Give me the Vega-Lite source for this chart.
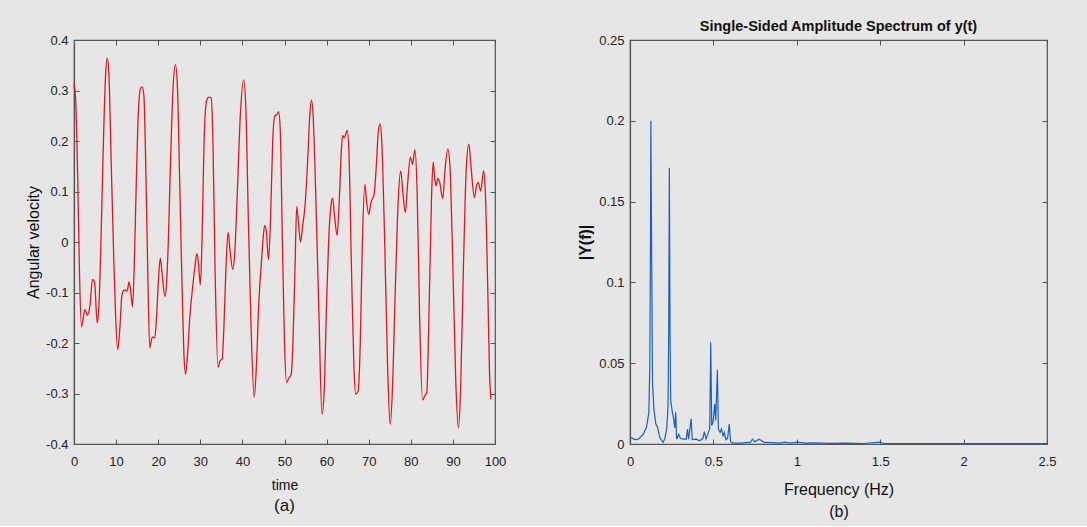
{
  "$schema": "https://vega.github.io/schema/vega-lite/v6.json",
  "background": "#e6e6e6",
  "padding": {"left": 24, "top": 17, "right": 34, "bottom": 6},
  "bounds": "flush",
  "spacing": 135,
  "config": {
    "font": "Liberation Sans",
    "view": {"stroke": "#555555", "strokeWidth": 1.2},
    "axis": {
      "grid": false, "domainColor": "#555555", "domainWidth": 1.2, "tickColor": "#555555", "tickSize": -5,
      "labelFontSize": 13, "labelColor": "#222222", "labelFont": "Liberation Sans", "labelPadding": 11,
      "labelFlush": false, "labelOverlap": false,
      "titleFont": "Liberation Sans", "titleColor": "#111111", "titleFontWeight": "normal"
    },
    "axisX": {"labelPadding": 16},
    "title": {"font": "Liberation Sans", "color": "#111111"},
    "locale": {"number": {"decimal": ".", "thousands": ",", "grouping": [3], "currency": ["$", ""], "minus": "-"}}
  },
  "datasets": {
    "vel": [
      {"t":0,"v":0.314},{"t":0.4,"v":0.28},{"t":0.9,"v":0.12},{"t":1.3,"v":-0.06},{"t":1.8,"v":-0.168},{"t":2.2,"v":-0.15},{"t":2.6,"v":-0.134},{"t":3.2,"v":-0.145},{"t":3.8,"v":-0.125},{"t":4.4,"v":-0.074},{"t":4.9,"v":-0.08},{"t":5.5,"v":-0.16},{"t":5.9,"v":-0.13},{"t":6.4,"v":0.0},{"t":6.9,"v":0.17},{"t":7.5,"v":0.33},{"t":7.9,"v":0.364},{"t":8.3,"v":0.33},{"t":8.8,"v":0.17},{"t":9.4,"v":-0.02},{"t":9.9,"v":-0.15},
      {"t":10.4,"v":-0.213},{"t":10.9,"v":-0.17},{"t":11.4,"v":-0.104},{"t":12.0,"v":-0.095},{"t":12.6,"v":-0.097},{"t":13.1,"v":-0.079},{"t":13.5,"v":-0.1},{"t":13.9,"v":-0.128},{"t":14.3,"v":-0.05},{"t":14.8,"v":0.12},{"t":15.3,"v":0.26},{"t":15.8,"v":0.304},{"t":16.2,"v":0.307},{"t":16.6,"v":0.29},{"t":17.0,"v":0.17},{"t":17.5,"v":-0.05},{"t":18.0,"v":-0.21},{"t":18.6,"v":-0.188},{"t":19.2,"v":-0.19},{"t":19.6,"v":-0.15},
      {"t":20.1,"v":-0.07},{"t":20.5,"v":-0.032},{"t":20.9,"v":-0.06},{"t":21.6,"v":-0.108},{"t":22.0,"v":-0.08},{"t":22.4,"v":0.0},{"t":22.9,"v":0.15},{"t":23.5,"v":0.3},{"t":24.1,"v":0.351},{"t":24.6,"v":0.3},{"t":25.1,"v":0.12},{"t":25.7,"v":-0.1},{"t":26.1,"v":-0.22},{"t":26.5,"v":-0.262},{"t":27.0,"v":-0.22},{"t":27.5,"v":-0.15},{"t":28.2,"v":-0.088},{"t":28.7,"v":-0.05},{"t":29.2,"v":-0.023},{"t":29.6,"v":-0.045},
      {"t":30.0,"v":-0.085},{"t":30.4,"v":0.0},{"t":30.9,"v":0.2},{"t":31.5,"v":0.28},{"t":32.0,"v":0.287},{"t":32.6,"v":0.285},{"t":33.0,"v":0.2},{"t":33.5,"v":-0.05},{"t":34.2,"v":-0.248},{"t":34.7,"v":-0.235},{"t":35.2,"v":-0.232},{"t":35.6,"v":-0.17},{"t":36.1,"v":-0.05},{"t":36.6,"v":0.019},{"t":37.1,"v":-0.02},{"t":37.7,"v":-0.054},{"t":38.2,"v":-0.02},{"t":38.8,"v":0.1},{"t":39.5,"v":0.25},
      {"t":40.3,"v":0.321},{"t":40.8,"v":0.27},{"t":41.4,"v":0.05},{"t":42.0,"v":-0.15},{"t":42.8,"v":-0.307},{"t":43.3,"v":-0.25},{"t":43.9,"v":-0.12},{"t":44.5,"v":-0.042},{"t":44.9,"v":0.005},{"t":45.3,"v":0.033},{"t":45.7,"v":0.02},{"t":46.2,"v":-0.035},{"t":46.7,"v":0.05},{"t":47.2,"v":0.2},{"t":47.7,"v":0.25},{"t":48.2,"v":0.252},{"t":48.6,"v":0.258},{"t":49.0,"v":0.22},{"t":49.5,"v":0.0},
      {"t":50.0,"v":-0.2},{"t":50.5,"v":-0.278},{"t":51.0,"v":-0.27},{"t":51.6,"v":-0.262},{"t":52.0,"v":-0.2},{"t":52.5,"v":-0.05},{"t":52.9,"v":0.07},{"t":53.3,"v":0.04},{"t":53.8,"v":0.0},{"t":54.3,"v":0.03},{"t":54.9,"v":0.075},{"t":55.5,"v":0.16},{"t":56.0,"v":0.25},{"t":56.4,"v":0.281},{"t":56.8,"v":0.25},{"t":57.4,"v":0.1},{"t":58.2,"v":-0.15},{"t":58.9,"v":-0.341},{"t":59.4,"v":-0.3},
      {"t":60.0,"v":-0.12},{"t":60.5,"v":0.005},{"t":61.0,"v":0.07},{"t":61.4,"v":0.087},{"t":61.9,"v":0.05},{"t":62.5,"v":0.013},{"t":63.0,"v":0.08},{"t":63.5,"v":0.18},{"t":63.8,"v":0.211},{"t":64.2,"v":0.206},{"t":64.6,"v":0.215},{"t":64.9,"v":0.221},{"t":65.3,"v":0.18},{"t":65.9,"v":-0.05},{"t":66.5,"v":-0.25},{"t":66.9,"v":-0.301},{"t":67.5,"v":-0.295},{"t":68.0,"v":-0.2},{"t":68.5,"v":0.0},{"t":69.1,"v":0.114},{"t":69.5,"v":0.08},
      {"t":70.0,"v":0.055},{"t":70.6,"v":0.08},{"t":71.3,"v":0.095},{"t":71.8,"v":0.15},{"t":72.3,"v":0.22},{"t":72.7,"v":0.234},{"t":73.1,"v":0.2},{"t":73.8,"v":0.0},{"t":74.5,"v":-0.25},{"t":75.1,"v":-0.361},{"t":75.6,"v":-0.3},{"t":76.3,"v":-0.1},{"t":77.0,"v":0.08},{"t":77.6,"v":0.141},{"t":78.1,"v":0.1},{"t":78.7,"v":0.058},{"t":79.2,"v":0.11},{"t":79.9,"v":0.168},
      {"t":80.4,"v":0.154},{"t":81.0,"v":0.183},{"t":81.5,"v":0.1},{"t":82.1,"v":-0.15},{"t":82.8,"v":-0.313},{"t":83.3,"v":-0.305},{"t":83.8,"v":-0.298},{"t":84.3,"v":-0.15},{"t":84.9,"v":0.08},{"t":85.3,"v":0.158},{"t":85.7,"v":0.125},{"t":86.0,"v":0.111},{"t":86.4,"v":0.126},{"t":86.8,"v":0.12},{"t":87.6,"v":0.086},{"t":88.1,"v":0.14},{"t":88.8,"v":0.184},{"t":89.3,"v":0.15},
      {"t":90.0,"v":-0.05},{"t":90.7,"v":-0.28},{"t":91.3,"v":-0.368},{"t":91.8,"v":-0.3},{"t":92.5,"v":-0.05},{"t":93.2,"v":0.15},{"t":93.8,"v":0.194},{"t":94.3,"v":0.15},{"t":95.1,"v":0.088},{"t":95.6,"v":0.11},{"t":96.0,"v":0.118},{"t":96.6,"v":0.101},{"t":97.3,"v":0.141},{"t":97.7,"v":0.1},{"t":98.3,"v":-0.1},{"t":98.7,"v":-0.26},{"t":99.0,"v":-0.311}
    ],
    "spec": [
      {"f":0,"a":0.0041},{"f":0.015,"a":0.0035},{"f":0.03,"a":0.0027},{"f":0.05,"a":0.003},{"f":0.065,"a":0.0045},{"f":0.079,"a":0.006},{"f":0.099,"a":0.0103},{"f":0.113,"a":0.0196},{"f":0.119,"a":0.0485},{"f":0.123,"a":0.131},{"f":0.125,"a":0.2},{"f":0.129,"a":0.131},{"f":0.135,"a":0.038},{"f":0.143,"a":0.0217},{"f":0.155,"a":0.0124},{"f":0.165,"a":0.0103},{"f":0.179,"a":0.004},{"f":0.198,"a":0.001},
      {"f":0.208,"a":0.003},{"f":0.22,"a":0.0093},{"f":0.228,"a":0.0237},{"f":0.232,"a":0.069},{"f":0.236,"a":0.171},{"f":0.24,"a":0.069},{"f":0.244,"a":0.027},{"f":0.254,"a":0.0196},{"f":0.262,"a":0.0155},{"f":0.268,"a":0.01},{"f":0.274,"a":0.0196},{"f":0.28,"a":0.003},{"f":0.292,"a":0.006},{"f":0.302,"a":0.0035},{"f":0.317,"a":0.003},{"f":0.337,"a":0.003},{"f":0.345,"a":0.0093},{"f":0.351,"a":0.003},{"f":0.367,"a":0.0155},{"f":0.373,"a":0.0027},
      {"f":0.397,"a":0.003},{"f":0.417,"a":0.002},{"f":0.437,"a":0.0035},{"f":0.446,"a":0.0076},{"f":0.456,"a":0.003},{"f":0.47,"a":0.0072},{"f":0.478,"a":0.0093},{"f":0.484,"a":0.063},{"f":0.49,"a":0.0114},{"f":0.498,"a":0.0134},{"f":0.508,"a":0.0248},{"f":0.514,"a":0.0145},{"f":0.524,"a":0.046},{"f":0.53,"a":0.0093},{"f":0.54,"a":0.0072},{"f":0.548,"a":0.0093},{"f":0.558,"a":0.005},{"f":0.565,"a":0.0072},{"f":0.575,"a":0.0027},{"f":0.585,"a":0.0035},{"f":0.595,"a":0.0124},{"f":0.603,"a":0.0014},
      {"f":0.615,"a":0.0006},{"f":0.665,"a":0.0006},{"f":0.704,"a":0.001},{"f":0.72,"a":0.0008},{"f":0.734,"a":0.003},{"f":0.748,"a":0.0014},{"f":0.774,"a":0.003},{"f":0.804,"a":0.001},{"f":0.85,"a":0.0008},{"f":0.9,"a":0.0006},{"f":0.93,"a":0.0012},{"f":0.96,"a":0.0006},{"f":1.0,"a":0.0012},{"f":1.05,"a":0.0005},{"f":1.1,"a":0.0007},{"f":1.2,"a":0.0004},{"f":1.3,"a":0.0005},{"f":1.4,"a":0.0003},{"f":1.5,"a":0.0012},{"f":1.52,"a":0.0003},{"f":1.7,"a":0.0003},{"f":2.0,"a":0.0002},{"f":2.5,"a":0.0002}
    ]
  },
  "hconcat": [
    {
      "width": 421,
      "height": 404,
      "data": {"name": "vel"},
      "title": {"text": "(a)", "orient": "bottom", "fontSize": 17, "fontWeight": "normal", "offset": 6},
      "layer": [
        {
          "mark": {"type": "line", "color": "#e8141c", "strokeWidth": 1.3, "interpolate": "monotone"},
          "encoding": {
            "x": {"field": "t", "type": "quantitative", "scale": {"domain": [0, 100], "nice": false},
                  "axis": {"orient": "bottom", "title": "time", "titleFontSize": 14, "titlePadding": 10, "values": [0,10,20,30,40,50,60,70,80,90,100], "format": "d"}},
            "y": {"field": "v", "type": "quantitative", "scale": {"domain": [-0.4, 0.4], "nice": false, "zero": false},
                  "axis": {"orient": "left", "title": "Angular velocity", "titleFontSize": 16, "titlePadding": 4, "values": [-0.4,-0.3,-0.2,-0.1,0,0.1,0.2,0.3,0.4], "format": ".1~f"}}
          }
        },
        {
          "mark": {"type": "line", "opacity": 0},
          "encoding": {
            "x": {"field": "t", "type": "quantitative", "axis": {"orient": "top", "labels": false, "title": null, "domain": false, "values": [0,10,20,30,40,50,60,70,80,90,100]}},
            "y": {"field": "v", "type": "quantitative", "axis": {"orient": "right", "labels": false, "title": null, "domain": false, "values": [-0.4,-0.3,-0.2,-0.1,0,0.1,0.2,0.3,0.4]}}
          }
        }
      ],
      "resolve": {"axis": {"x": "independent", "y": "independent"}}
    },
    {
      "width": 417,
      "height": 404,
      "data": {"name": "spec"},
      "title": {"text": "Single-Sided Amplitude Spectrum of y(t)", "fontSize": 14.5, "fontWeight": "bold", "anchor": "middle", "offset": 0},
      "layer": [
        {
          "mark": {"type": "line", "color": "#1a5fc4", "strokeWidth": 1.2},
          "encoding": {
            "x": {"field": "f", "type": "quantitative", "scale": {"domain": [0, 2.5], "nice": false},
                  "axis": {"orient": "bottom", "title": ["Frequency (Hz)", "(b)"], "titleFontSize": 16, "titleLineHeight": 22, "titlePadding": 13, "values": [0,0.5,1,1.5,2,2.5], "format": ".1~f"}},
            "y": {"field": "a", "type": "quantitative", "scale": {"domain": [0, 0.25], "nice": false},
                  "axis": {"orient": "left", "title": "|Y(f)|", "titleFontSize": 16, "titleFontWeight": "bold", "titlePadding": 5, "values": [0,0.05,0.1,0.15,0.2,0.25], "format": ".2~f"}}
          }
        },
        {
          "mark": {"type": "line", "opacity": 0},
          "encoding": {
            "x": {"field": "f", "type": "quantitative", "axis": {"orient": "top", "labels": false, "title": null, "domain": false, "values": [0,0.5,1,1.5,2,2.5]}},
            "y": {"field": "a", "type": "quantitative", "axis": {"orient": "right", "labels": false, "title": null, "domain": false, "values": [0,0.05,0.1,0.15,0.2,0.25]}}
          }
        }
      ],
      "resolve": {"axis": {"x": "independent", "y": "independent"}}
    }
  ]
}
